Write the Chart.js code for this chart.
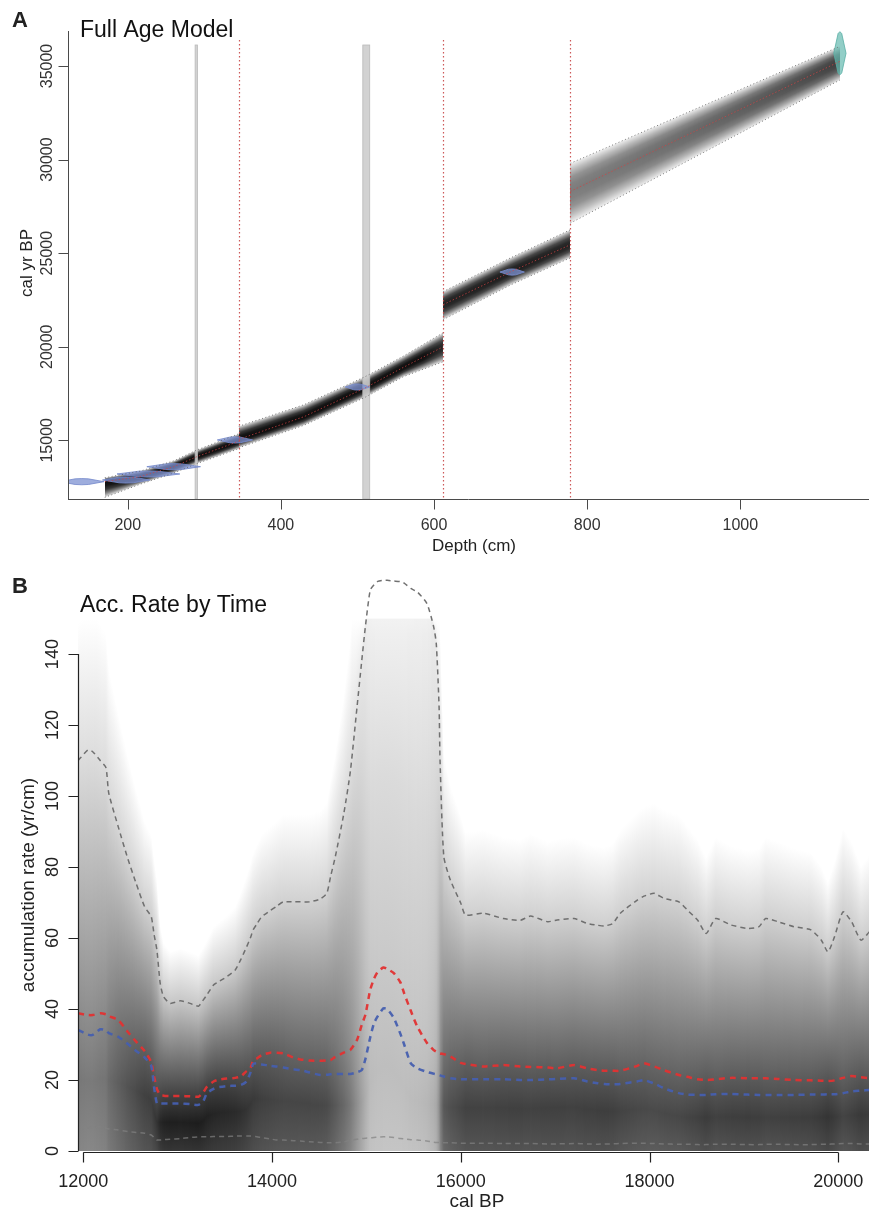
<!DOCTYPE html>
<html>
<head>
<meta charset="utf-8">
<title>Age model and accumulation rate</title>
<script src="https://cdn.jsdelivr.net/npm/chart.js@4.4.1/dist/chart.umd.min.js"></script>
<style>
  html, body { margin: 0; padding: 0; background: #fff; }
  #wrap { position: relative; width: 869px; height: 1214px; }
  canvas { position: absolute; left: 0; }
  #ageModel { top: 0; }
  #accRate { top: 560px; }
</style>
</head>
<body>
<div id="wrap">
  <canvas id="ageModel" width="869" height="560"></canvas>
  <canvas id="accRate" width="869" height="654"></canvas>
</div>
<script>
// ---------- A: age-depth model (depth in cm, ages in cal yr BP) ----------
const modelSegment = [0, 0, 0, 0, 0, 1, 1, 1, 1, 1, 2, 2, 2, 3, 3];
const modelDepth   = [170, 216, 260, 290, 345, 345, 430, 510, 560, 612, 612, 700, 778, 778, 1130];
const modelMin     = [11950, 12650, 13250, 13750, 14550, 14600, 15800, 17300, 18400, 19200, 21450, 23300, 24750, 26600, 34250];
const modelMean    = [12790, 13055, 13590, 14120, 14950, 15050, 16260, 17800, 18900, 20000, 22250, 24000, 25450, 28300, 35250];
const modelMax     = [13000, 13350, 13900, 14480, 15350, 15750, 16900, 18400, 19500, 20750, 22950, 24750, 26250, 29800, 36050];

const hiatusDepths = [345, 612, 778];
const slumpFrom = [288, 507];
const slumpTo   = [291, 516];

// calibrated radiocarbon dates
const dateDepth  = [140, 198, 227, 260, 340, 500, 702];
const dateAge    = [12790, 12880, 13200, 13590, 15020, 17850, 23990];
const dateSpread = [29, 31, 41, 35, 23, 16, 16];
// basal date
const basalDepth = [1130];
const basalAge   = [35680];
const basalAgeSpread = [1050];

const depthTicks = [200, 400, 600, 800, 1000];
const ageTicks   = [15000, 20000, 25000, 30000, 35000];

// ---------- B: accumulation rate by time ----------
const rateAge = [11945, 12050, 12100, 12180, 12240, 12270, 12370, 12470, 12560, 12650,
  12720, 12750, 12780, 12815, 12850, 12920, 13030, 13130, 13220, 13270,
  13310, 13380, 13420, 13520, 13610, 13670, 13730, 13770, 13800, 13840,
  13890, 13980, 14050, 14120, 14230, 14300, 14400, 14510, 14580, 14620,
  14670, 14760, 14830, 14900, 14950, 14990, 15040, 15080, 15120, 15180,
  15220, 15290, 15360, 15400, 15470, 15540, 15640, 15710, 15740, 15770,
  15780, 15820, 15890, 16000, 16050, 16240, 16450, 16630, 16740, 16920,
  17020, 17200, 17340, 17450, 17520, 17610, 17690, 17870, 17940, 18050,
  18150, 18310, 18400, 18510, 18600, 18700, 18860, 19040, 19160, 19230,
  19360, 19530, 19710, 19820, 19890, 19960, 20050, 20140, 20240, 20330];
const rateUpper = [110, 113, 112.5, 110, 108, 100.8, 91.4, 82.5, 75.4, 68.8,
  66, 61, 56.6, 47.2, 43.5, 41.6, 42.3, 41.6, 40.8, 42.5,
  44, 46.8, 47.5, 49.1, 51, 54, 57.5, 60, 62.3, 64,
  66, 67.7, 69, 70.2, 70.2, 70.2, 70.2, 71, 72.6, 77.3,
  82.9, 95, 107, 125, 138, 148, 158, 159.5, 160.5, 160.8,
  160.8, 160.6, 160.4, 160, 158.5, 157.5, 154.3, 148, 143, 125,
  110, 82.9, 76.3, 69.8, 66.5, 67, 65.5, 65, 66.2, 64.6,
  65.1, 65.5, 64.1, 63.6, 63.4, 64.1, 67, 70.7, 71.8, 72.6,
  71.2, 70.2, 67.9, 65, 61.3, 65.5, 63.7, 62.7, 63.2, 65.5,
  64.6, 63.2, 62.3, 59.4, 56.1, 60.4, 67.4, 64.6, 59.4, 61.8];
const rateMean = [38.8, 38.3, 38.3, 38.8, 38.5, 38, 36.9, 33.6, 30.8, 28.2,
  25, 21, 17.5, 15.8, 15.6, 15.5, 15.5, 15.4, 15.3, 16.5,
  18.1, 19.6, 20, 20.4, 20.6, 21, 22.5, 23.3, 25.5, 26.1,
  27, 27.7, 27.7, 27.5, 26.3, 25.8, 25.5, 25.4, 25.5, 25.6,
  26.5, 27.7, 28.5, 31.3, 35.5, 38.5, 45.4, 48.5, 50.5, 51.7,
  51.3, 50.1, 47.5, 44.4, 39.5, 35, 30.5, 28.5, 28, 27.7,
  27.5, 27.3, 26.6, 24.8, 24.5, 23.8, 24.2, 23.8, 23.7, 23.5,
  23.3, 24.2, 23.3, 22.8, 22.6, 22.6, 22.6, 24, 24.7, 23.8,
  22.8, 21.4, 20.9, 20.2, 20, 20.2, 20.6, 20.5, 20.5, 20.5,
  20.3, 20, 19.9, 19.8, 19.7, 19.9, 20.6, 21.1, 20.8, 20.5];
const rateMedian = [34.1, 32.8, 32.7, 34.3, 34, 33.2, 32.2, 30.2, 28.2, 26.4,
  24, 18, 13.4, 13.4, 13.4, 13.4, 13.4, 13.2, 13, 14,
  16.3, 17.5, 17.9, 18.3, 18.4, 18.6, 19.6, 22, 24.5, 24.7,
  24.4, 24, 23.8, 23.5, 23, 22.8, 22.1, 21.4, 21.5, 21.6,
  21.7, 21.7, 21.7, 22.2, 22.8, 26, 32, 36, 38, 40.2,
  40, 37.5, 33, 30, 24.7, 23.3, 22.3, 21.8, 21.6, 21.4,
  21.3, 21, 20.5, 20.2, 20.2, 20.2, 20.2, 20, 20, 20.2,
  20.3, 20.5, 19.6, 19.1, 18.9, 18.8, 18.9, 19.6, 20, 19,
  17.7, 16.3, 15.9, 15.8, 15.8, 16, 16.1, 15.9, 15.8, 15.8,
  15.8, 15.8, 15.9, 15.9, 16, 16, 16.3, 16.8, 17, 17.2];
const rateLower = [6.1, 6.5, 6.7, 6.8, 6.4, 6.2, 5.9, 5.5, 5.2, 5,
  4.5, 3.8, 3.1, 3.1, 3.2, 3.3, 3.5, 3.8, 4, 4,
  4, 4.1, 4.1, 4.1, 4.2, 4.2, 4.2, 4.2, 4.2, 4,
  3.8, 3.4, 3.1, 3.1, 2.9, 2.8, 2.6, 2.4, 2.3, 2.3,
  2.3, 2.6, 3, 3.3, 3.5, 3.6, 3.7, 3.8, 3.9, 4,
  4, 3.8, 3.5, 3.4, 3.2, 3.1, 2.8, 2.5, 2.4, 2.4,
  2.3, 2.3, 2.3, 2.2, 2.2, 2.2, 2.1, 2.1, 2.1, 2,
  2, 2.1, 2, 1.9, 2, 2, 2.1, 2.2, 2.2, 2.1,
  2, 1.9, 1.9, 1.8, 1.8, 1.9, 1.9, 1.8, 1.8, 1.9,
  1.9, 1.8, 1.8, 1.9, 1.9, 2, 2.1, 2.1, 2, 2];

const rateXTicks = [12000, 14000, 16000, 18000, 20000];
const rateYTicks = [0, 20, 40, 60, 80, 100, 120, 140];

const fontFam = '"Liberation Sans", Arial, Helvetica, sans-serif';

function lerp(a, b, k) { return a + (b - a) * k; }

function text(ctx, s, x, y, font, align, color, rot) {
  ctx.save();
  ctx.translate(x, y);
  if (rot) ctx.rotate(rot);
  ctx.font = font;
  ctx.textAlign = align;
  ctx.textBaseline = 'alphabetic';
  ctx.fillStyle = color;
  ctx.fillText(s, 0, 0);
  ctx.restore();
}

// opacity profile across the age envelope, tail -> core
const bellPos = [0, 0.25, 0.5, 0.75, 1];
const bellW = [0.12, 0.5, 0.82, 0.96, 1];

// grey density columns of the age model, one pixel wide
const ageShading = {
  id: 'ageShading',
  beforeDatasetsDraw(chart) {
    const { ctx, chartArea: area, scales: { x, y } } = chart;
    ctx.save();
    ctx.beginPath();
    ctx.rect(area.left, area.top, area.width, area.height);
    ctx.clip();
    let start = 0;
    for (let i = 1; i <= modelDepth.length; i++) {
      if (i < modelDepth.length && modelSegment[i] === modelSegment[start]) continue;
      const end = i - 1;
      const p0 = Math.round(x.getPixelForValue(modelDepth[start]));
      const p1 = Math.round(x.getPixelForValue(modelDepth[end]));
      let j = start;
      for (let px = p0; px < p1; px++) {
        const d = x.getValueForPixel(px + 0.5);
        while (j < end - 1 && modelDepth[j + 1] < d) j++;
        const k = Math.min(1, Math.max(0, (d - modelDepth[j]) / (modelDepth[j + 1] - modelDepth[j])));
        const lo = lerp(modelMin[j], modelMin[j + 1], k);
        const mid = lerp(modelMean[j], modelMean[j + 1], k);
        const hi = lerp(modelMax[j], modelMax[j + 1], k);
        const yLo = y.getPixelForValue(lo), yMid = y.getPixelForValue(mid), yHi = y.getPixelForValue(hi);
        const peak = Math.min(0.95, 0.2 + 1000 / (hi - lo));
        const f = (yLo - yMid) / (yLo - yHi);
        const g = ctx.createLinearGradient(0, yLo, 0, yHi);
        bellPos.forEach((p, n) => g.addColorStop(f * p, 'rgba(0,0,0,' + (peak * bellW[n]).toFixed(3) + ')'));
        for (let n = bellPos.length - 2; n >= 0; n--) {
          g.addColorStop(f + (1 - f) * (1 - bellPos[n]), 'rgba(0,0,0,' + (peak * bellW[n]).toFixed(3) + ')');
        }
        ctx.fillStyle = g;
        ctx.fillRect(px, yHi, 1, yLo - yHi);
      }
      start = i;
    }
    // slump sections
    slumpFrom.forEach((d, i) => {
      const a = x.getPixelForValue(d), b = x.getPixelForValue(slumpTo[i]);
      ctx.fillStyle = 'rgba(205,205,205,0.9)';
      ctx.fillRect(a, area.top + 14, b - a, area.bottom - area.top - 14);
      ctx.strokeStyle = 'rgba(185,185,185,1)';
      ctx.lineWidth = 0.8;
      ctx.strokeRect(a, area.top + 14, b - a, area.bottom - area.top - 14);
    });
    ctx.restore();
  },
  afterDatasetsDraw(chart) {
    const { ctx, chartArea: area, scales: { x } } = chart;
    ctx.save();
    ctx.strokeStyle = 'rgba(200,70,70,0.9)';
    ctx.lineWidth = 1.2;
    ctx.setLineDash([1.5, 2.5]);
    hiatusDepths.forEach(d => {
      const px = Math.round(x.getPixelForValue(d)) + 0.5;
      ctx.beginPath();
      ctx.moveTo(px, area.top + 9);
      ctx.lineTo(px, area.bottom);
      ctx.stroke();
    });
    ctx.restore();
  }
};

const ageAxes = {
  id: 'ageAxes',
  afterDraw(chart) {
    const { ctx, chartArea: area, scales: { x, y } } = chart;
    ctx.save();
    ctx.strokeStyle = '#4a4a4a';
    ctx.lineWidth = 1;
    const by = Math.round(area.bottom) + 0.5, lx = Math.round(area.left) + 0.5;
    ctx.beginPath();
    ctx.moveTo(area.left, by); ctx.lineTo(area.right, by);
    ctx.moveTo(lx, area.top); ctx.lineTo(lx, area.bottom);
    depthTicks.forEach(v => {
      const px = Math.round(x.getPixelForValue(v)) + 0.5;
      ctx.moveTo(px, by); ctx.lineTo(px, by + 10);
    });
    ageTicks.forEach(v => {
      const py = Math.round(y.getPixelForValue(v)) + 0.5;
      ctx.moveTo(lx, py); ctx.lineTo(lx - 10, py);
    });
    ctx.stroke();
    depthTicks.forEach(v => text(ctx, String(v), x.getPixelForValue(v), 530, '16px ' + fontFam, 'center', '#333'));
    ageTicks.forEach(v => text(ctx, String(v), 52, y.getPixelForValue(v), '16px ' + fontFam, 'center', '#333', -Math.PI / 2));
    text(ctx, 'Depth (cm)', 474, 551, '17px ' + fontFam, 'center', '#222');
    text(ctx, 'cal yr BP', 32, 263, '17px ' + fontFam, 'center', '#222', -Math.PI / 2);
    text(ctx, 'Full Age Model', 80, 37, '23px ' + fontFam, 'left', '#111');
    text(ctx, 'A', 12, 27, 'bold 22px "Liberation Sans Narrow", ' + fontFam, 'left', '#222');
    ctx.restore();
  }
};

// line datasets for the model envelope, broken at each hiatus
function modelLine(values) {
  const pts = [];
  modelDepth.forEach((d, i) => {
    if (i > 0 && modelSegment[i] !== modelSegment[i - 1]) pts.push({ x: d, y: null });
    pts.push({ x: d, y: values[i] });
  });
  return pts;
}

function diamond(depth, age, depthHalf, ageHalf) {
  return [
    { x: depth - depthHalf, y: age },
    { x: depth - depthHalf * 0.3, y: age + ageHalf },
    { x: depth, y: age + ageHalf * 1.1 },
    { x: depth + depthHalf * 0.3, y: age + ageHalf },
    { x: depth + depthHalf, y: age },
    { x: depth + depthHalf * 0.3, y: age - ageHalf },
    { x: depth, y: age - ageHalf * 1.1 },
    { x: depth - depthHalf * 0.3, y: age - ageHalf },
    { x: depth - depthHalf, y: age }
  ];
}

const ageDatasets = [
  { data: modelLine(modelMax), borderColor: 'rgba(90,90,90,0.8)', borderWidth: 1, borderDash: [1, 2.5] },
  { data: modelLine(modelMin), borderColor: 'rgba(90,90,90,0.8)', borderWidth: 1, borderDash: [1, 2.5] },
  { data: modelLine(modelMean), borderColor: 'rgba(205,70,70,0.75)', borderWidth: 1, borderDash: [1.5, 2] }
];
dateDepth.forEach((d, i) => {
  ageDatasets.push({
    data: diamond(d, dateAge[i], dateSpread[i], 150),
    borderColor: 'rgba(120,140,205,0.85)', backgroundColor: 'rgba(125,145,210,0.75)',
    borderWidth: 1, fill: 'shape'
  });
});
basalDepth.forEach((d, i) => {
  ageDatasets.push({
    data: diamond(d, basalAge[i], 8, basalAgeSpread[i]),
    borderColor: 'rgba(90,175,165,0.8)', backgroundColor: 'rgba(100,185,175,0.7)',
    borderWidth: 1, fill: 'shape'
  });
});

new Chart(document.getElementById('ageModel').getContext('2d'), {
  type: 'line',
  data: { datasets: ageDatasets },
  options: {
    responsive: false,
    animation: false,
    devicePixelRatio: 1,
    layout: { padding: { left: 68, right: 0, top: 31, bottom: 61 } },
    elements: { point: { radius: 0 }, line: { tension: 0 } },
    plugins: { legend: { display: false }, tooltip: { enabled: false } },
    scales: {
      x: { type: 'linear', display: false, min: 122, max: 1168 },
      y: { type: 'linear', display: false, min: 11864, max: 36870 }
    }
  },
  plugins: [ageShading, ageAxes]
});

// ---------- B ----------
function rateAt(arr, t) {
  let j = 0;
  while (j < rateAge.length - 2 && rateAge[j + 1] < t) j++;
  const k = Math.min(1, Math.max(0, (t - rateAge[j]) / (rateAge[j + 1] - rateAge[j])));
  return lerp(arr[j], arr[j + 1], k);
}

function grey(dark) {
  const g = Math.round(255 * (1 - Math.max(0, Math.min(1, dark))));
  return 'rgb(' + g + ',' + g + ',' + g + ')';
}

// heat map of accumulation rates, darker where the spread is narrow
const rateShading = {
  id: 'rateShading',
  beforeDatasetsDraw(chart) {
    const { ctx, chartArea: area, scales: { x, y } } = chart;
    ctx.save();
    ctx.beginPath();
    ctx.rect(area.left, area.top, area.width, area.height);
    ctx.clip();
    const y0 = y.getPixelForValue(0);
    for (let px = Math.floor(area.left); px < area.right; px++) {
      const t = x.getValueForPixel(px + 0.5);
      const U = rateAt(rateUpper, t), M = rateAt(rateMean, t);
      const Q = rateAt(rateMedian, t), L = rateAt(rateLower, t);
      const D = Math.max(0.24, Math.min(0.93, 1.08 - (U - L) / 190));
      const top = Math.min(U * 1.35, 150);
      const vs = [0, Q * 0.6, M, (M + U) / 2];
      const ds = [D * 0.9, D, D * 0.85, D * 0.55];
      if (U < top) { vs.push(U, top); ds.push(D * 0.25, 0); }
      else { vs.push(top * 0.97, top); ds.push(D * 0.25, D * 0.2); }
      const yt = y.getPixelForValue(top);
      const g = ctx.createLinearGradient(0, y0, 0, yt);
      vs.forEach((v, n) => g.addColorStop(Math.min(1, v / top), grey(ds[n])));
      ctx.fillStyle = g;
      ctx.fillRect(px, yt, 1, y0 - yt);
    }
    ctx.restore();
  }
};

const rateAxes = {
  id: 'rateAxes',
  afterDraw(chart) {
    const { ctx, scales: { x, y } } = chart;
    ctx.save();
    ctx.strokeStyle = '#222';
    ctx.lineWidth = 1.2;
    const by = Math.round(y.getPixelForValue(0)) + 1.5;
    const lx = Math.round(x.left) + 0.5;
    ctx.beginPath();
    ctx.moveTo(x.getPixelForValue(rateXTicks[0]), by);
    ctx.lineTo(x.getPixelForValue(rateXTicks[rateXTicks.length - 1]), by);
    rateXTicks.forEach(v => {
      const px = Math.round(x.getPixelForValue(v)) + 0.5;
      ctx.moveTo(px, by); ctx.lineTo(px, by + 10);
    });
    ctx.moveTo(lx, y.getPixelForValue(rateYTicks[0]));
    ctx.lineTo(lx, y.getPixelForValue(rateYTicks[rateYTicks.length - 1]));
    rateYTicks.forEach(v => {
      const py = Math.round(y.getPixelForValue(v)) + 0.5;
      ctx.moveTo(lx, py); ctx.lineTo(lx - 10, py);
    });
    ctx.stroke();
    rateXTicks.forEach(v => text(ctx, String(v), x.getPixelForValue(v), 627, '18px ' + fontFam, 'center', '#222'));
    rateYTicks.forEach(v => text(ctx, String(v), 58, y.getPixelForValue(v), '18px ' + fontFam, 'center', '#222', -Math.PI / 2));
    text(ctx, 'cal BP', 477, 647, '19px ' + fontFam, 'center', '#222');
    text(ctx, 'accumulation rate (yr/cm)', 34, 325, '19px ' + fontFam, 'center', '#222', -Math.PI / 2);
    text(ctx, 'Acc. Rate by Time', 80, 52, '23px ' + fontFam, 'left', '#111');
    text(ctx, 'B', 12, 33, 'bold 22px "Liberation Sans Narrow", ' + fontFam, 'left', '#222');
    ctx.restore();
  }
};

function ratePoints(arr) {
  return rateAge.map((t, i) => ({ x: t, y: arr[i] }));
}

new Chart(document.getElementById('accRate').getContext('2d'), {
  type: 'line',
  data: {
    datasets: [
      { label: 'upper', data: ratePoints(rateUpper), borderColor: 'rgba(105,105,105,0.95)', borderWidth: 1.5, borderDash: [5, 4] },
      { label: 'lower', data: ratePoints(rateLower), borderColor: 'rgba(130,130,130,0.7)', borderWidth: 1.5, borderDash: [5, 4] },
      { label: 'median', data: ratePoints(rateMedian), borderColor: 'rgba(70,95,175,0.95)', borderWidth: 2.5, borderDash: [6, 5] },
      { label: 'mean', data: ratePoints(rateMean), borderColor: 'rgba(225,50,50,0.95)', borderWidth: 2.5, borderDash: [6, 5] }
    ]
  },
  options: {
    responsive: false,
    animation: false,
    devicePixelRatio: 1,
    layout: { padding: { left: 78, right: 0, top: 10, bottom: 63 } },
    elements: { point: { radius: 0 }, line: { tension: 0.2 } },
    plugins: { legend: { display: false }, tooltip: { enabled: false } },
    scales: {
      x: { type: 'linear', display: false, min: 11944, max: 20325 },
      y: { type: 'linear', display: false, min: 0, max: 163.7 }
    }
  },
  plugins: [rateShading, rateAxes]
});
</script>
</body>
</html>
